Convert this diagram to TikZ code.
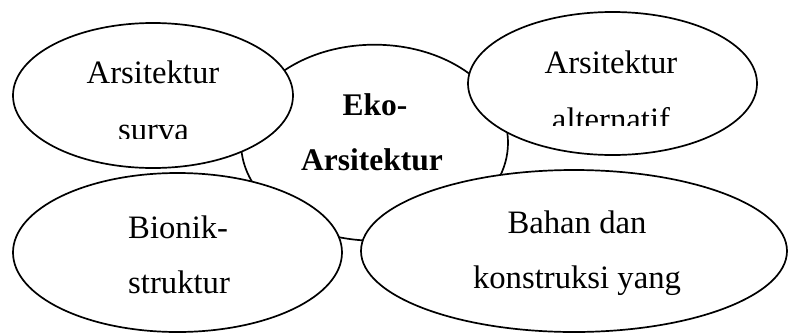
\documentclass[tikz,border=0pt]{standalone}
\usepackage{fontspec}
\setmainfont{Liberation Serif}
\usetikzlibrary{shapes.geometric}
\begin{document}
\begin{tikzpicture}[x=1pt,y=-1pt,
  bubble/.style={ellipse,draw=black,fill=white,line width=1.7pt,inner sep=0pt},
  label/.style={inner sep=0pt,anchor=base,font=\fontsize{32.7}{38}\selectfont},
  boldlabel/.style={label,font=\fontsize{31.5}{38}\selectfont\bfseries}]
\useasboundingbox (0,0) rectangle (788,333);

% central concept
\node[bubble,minimum width=267pt,minimum height=196pt] (eko) at (374.5,142.7) {};
\node[boldlabel] (eko1) at (375,115) {Eko-};
\node[boldlabel] (eko2) at (372,170) {Arsitektur};

% upper left
\node[bubble,minimum width=280pt,minimum height=145pt] (surva) at (153,95.5) {};
\node[label] (surva1) at (153,83) {Arsitektur};
\begin{scope}
  \clip (0,0) rectangle (310,138);
  \node[label] (surva2) at (153.5,140) {surva};
\end{scope}

% upper right
\node[bubble,minimum width=289pt,minimum height=143pt] (alt) at (612.5,83.5) {};
\node[label] (alt1) at (611,73) {Arsitektur};
\begin{scope}
  \clip (460,0) rectangle (788,125);
  \node[label] (alt2) at (611,130) {alternatif};
\end{scope}

% lower left
\node[bubble,minimum width=329pt,minimum height=159pt] (bionik) at (177.5,252.5) {};
\node[label,anchor=base west] (bionik1) at (128,238) {Bionik-};
\node[label,anchor=base west] (bionik2) at (128,293) {struktur};

% lower right
\node[bubble,minimum width=426pt,minimum height=162pt] (bahan) at (574,251) {};
\node[label] (bahan1) at (577,233) {Bahan dan};
\node[label] (bahan2) at (577,288) {konstruksi yang};
\end{tikzpicture}
\end{document}
